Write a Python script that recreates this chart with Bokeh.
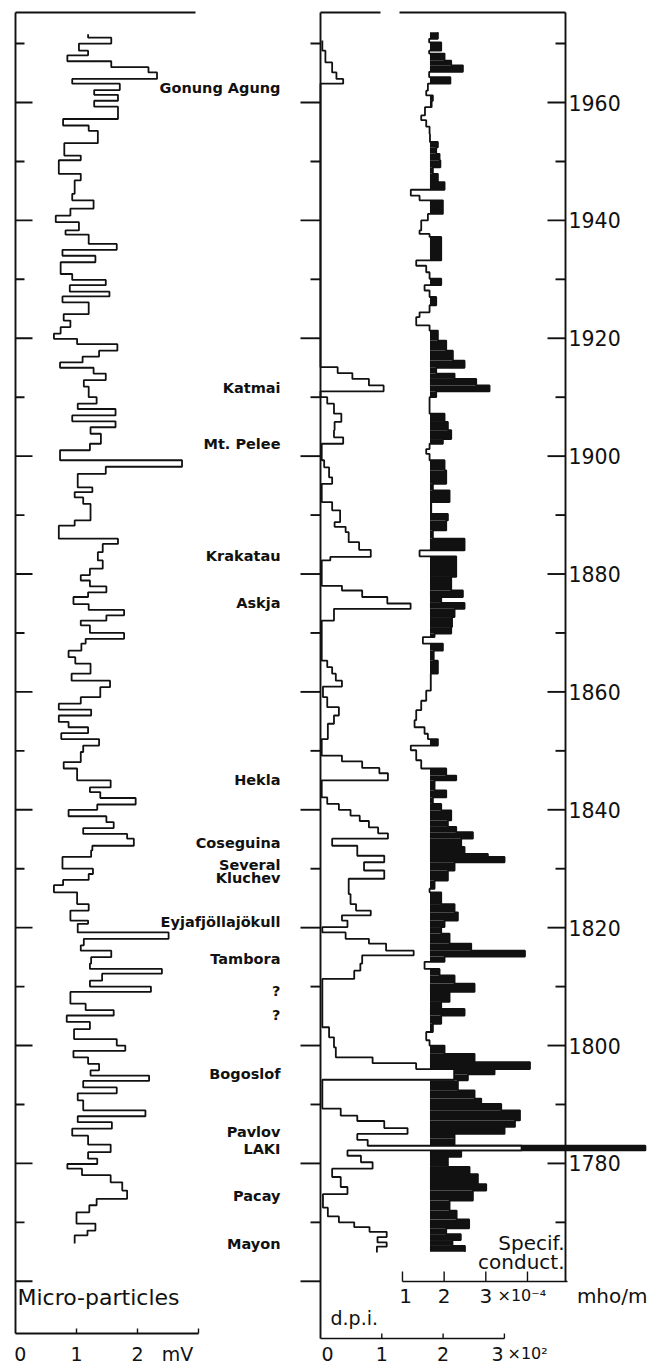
import numpy as np
from bokeh.plotting import figure
from bokeh.models import Range1d
from bokeh.core.properties import value
from bokeh.embed import file_html
from bokeh.resources import INLINE

# ---------------- data ----------------
# Micro-particles (mV): step edges in years (top -> bottom) and values between them
mp_edges = [1971.6, 1971.0, 1970.0, 1968.8, 1968.0, 1967.0, 1966.0, 1965.1, 1964.0, 1963.2, 1962.1, 1961.3,
            1960.3, 1959.3, 1957.2, 1956.1, 1955.2, 1953.1, 1951.0, 1950.2, 1947.9, 1946.8, 1944.5, 1943.4,
            1942.0, 1940.8, 1939.7, 1938.3,
            1937.6, 1936.0, 1935.0, 1934.0, 1932.9, 1930.9, 1929.9, 1929.0, 1927.9, 1927.1, 1926.1, 1924.1,
            1923.0, 1921.9, 1920.8, 1919.9, 1919.0, 1917.9, 1916.9, 1915.9, 1915.0, 1914.0, 1912.9, 1911.8,
            1910.0, 1908.9, 1908.0, 1906.9, 1905.9, 1904.9, 1903.8, 1902.1, 1901.0, 1899.3, 1898.2,
            1897.0, 1894.7, 1893.9, 1893.0, 1891.9, 1889.1, 1888.2, 1886.0, 1885.1, 1883.7, 1882.3, 1880.9,
            1879.8, 1878.9, 1877.9, 1876.9, 1876.1, 1874.9, 1873.9, 1873.0, 1872.1, 1871.3, 1870.0, 1869.0,
            1868.2, 1867.0, 1865.9, 1864.8, 1863.1, 1861.9, 1860.8,
            1859.1, 1858.0, 1857.0, 1856.0, 1854.9, 1854.0, 1853.0, 1852.0, 1850.9, 1849.8, 1848.1, 1847.0,
            1845.0, 1843.8, 1843.0, 1842.0, 1840.9, 1840.0, 1838.9, 1837.9, 1836.9, 1835.9, 1835.1, 1833.9,
            1833.1, 1832.0, 1830.0, 1829.1, 1828.1, 1827.2, 1826.0, 1824.0, 1822.9, 1821.2, 1820.65,
            1819.2, 1818.1, 1817.0, 1816.1, 1815.0, 1813.9, 1813.0, 1812.2, 1811.0, 1810.0, 1809.1, 1807.1,
            1806.0, 1805.1, 1804.0, 1802.8, 1801.1, 1800.0, 1799.1, 1798.0, 1796.9, 1795.8, 1794.9, 1794.0,
            1792.9, 1791.9, 1790.7, 1789.0, 1788.0, 1787.0, 1785.9, 1784.7, 1783.2, 1781.9, 1780.8, 1779.9,
            1779.1, 1778.0, 1776.8, 1775.4, 1774.0,
            1772.9, 1771.7, 1769.8, 1768.6, 1767.8, 1766.4]
mp_vals = [1.19, 1.57, 1.04, 1.19, 0.85, 1.57, 2.18, 2.32, 0.93, 1.71, 1.29, 1.68, 1.29, 1.68, 0.78, 1.2,
           1.35, 0.8, 1.07, 0.71, 1.07, 0.97, 0.93, 1.28, 0.9, 0.66, 1.04,
           0.82, 1.2, 1.66, 0.77, 1.31, 0.74, 0.93, 1.48, 0.89, 1.54, 0.77, 1.2, 0.79, 0.9, 0.74, 0.63, 1.01,
           1.67, 1.37, 1.1, 0.73, 1.28, 1.48, 1.12, 1.2, 1.33, 1.02, 1.64, 0.93, 1.64, 1.23, 1.4, 1.22, 0.73, 2.73,
           1.48, 1.02, 1.26, 0.97, 1.11, 1.23, 0.97, 0.71, 1.68, 1.43, 1.35, 1.43, 1.22, 1.07, 1.22, 1.49, 1.19,
           0.95, 1.2, 1.78, 1.49, 1.07, 1.22, 1.78, 1.15, 1.08, 0.87, 0.98, 1.23, 0.92, 1.55,
           1.39, 1.07, 0.71, 1.24, 0.71, 0.87, 1.19, 0.75, 1.37, 1.11, 1.07, 0.79, 1.01, 1.56, 1.22, 1.39, 1.97,
           1.34, 0.87, 1.49, 1.61, 1.11, 1.83, 1.94, 1.26, 1.24, 0.77, 1.27, 1.2, 0.78, 0.63, 1.01, 1.2, 0.9, 1.19,
           1.02, 2.51, 1.12, 1.07, 1.57, 1.24, 1.22, 2.4, 1.42, 1.22, 2.22, 0.9, 1.15, 1.61, 0.84, 1.22, 0.96,
           1.66, 1.8, 0.95, 1.19, 1.37, 1.23, 2.19, 1.11, 1.66, 1.02, 1.11, 2.13, 1.02, 1.58, 0.93, 1.19, 1.56,
           1.19, 1.34, 0.85, 1.09, 1.56, 1.75, 1.83,
           1.33, 1.21, 1.0, 1.31, 1.18, 0.97]

# Dust-veil index (d.p.i.)
dpi_edges = [1970.5, 1968.8, 1966.8, 1965.1, 1964.0, 1963.2, 1915.1, 1914.1, 1913.1, 1912.0, 1911.0, 1910.0,
             1908.9, 1907.2, 1905.8, 1904.4, 1903.2, 1902.1, 1899.3, 1898.1, 1896.4, 1895.3, 1892.2, 1890.8,
             1888.8, 1888.0, 1887.1, 1885.4, 1884.1, 1882.9, 1882.3, 1878.0, 1877.2, 1876.1, 1875.0, 1874.1,
             1872.1, 1865.3, 1864.2, 1863.1, 1861.9, 1860.9, 1859.1, 1857.4, 1856.0, 1854.6, 1852.0, 1849.2,
             1848.2, 1847.1, 1846.2, 1845.0, 1842.1, 1841.0, 1840.0, 1839.0, 1838.1, 1837.0, 1836.0, 1835.1,
             1833.9, 1832.2, 1831.1, 1829.7, 1828.3, 1825.7, 1824.0, 1822.9, 1822.1, 1821.2, 1820.1, 1819.2,
             1818.1, 1817.3, 1816.1, 1815.3, 1813.9, 1812.7, 1811.3, 1803.1, 1801.4, 1799.7, 1798.0, 1797.0,
             1796.0, 1794.2, 1789.3, 1788.1, 1787.2, 1786.0, 1785.0, 1784.0, 1783.0, 1782.2, 1781.3, 1780.2,
             1779.1, 1777.7, 1776.0, 1774.8, 1772.5, 1771.0, 1770.0, 1769.2, 1768.4, 1767.5, 1766.6, 1765.9,
             1764.9]
dpi_vals = [3, 8, 19, 26, 37, 0, 28, 52, 79, 103, 0, 11, 22, 34, 23, 22, 37, 2, 6, 14, 19, 2, 19, 32, 23,
            41, 46, 63, 82, 16, 2, 35, 68, 109, 147, 22, 2, 11, 19, 25, 35, 4, 11, 30, 22, 12, 2, 35, 68, 96,
            110, 2, 11, 30, 49, 64, 79, 94, 110, 19, 60, 104, 71, 104, 46, 49, 58, 82, 35, 44, 3, 41, 79, 107,
            152, 68, 65, 55, 3, 14, 22, 25, 85, 156, 218, 3, 33, 60, 104, 142, 60, 77, 328, 44, 66, 85, 19, 33,
            44, 4, 12, 30, 55, 80, 108, 93, 108, 92]

# Specific conductivity (x 10^-4 mho/m)
cond_edges = [1971.9, 1970.8, 1970.2, 1968.8, 1968.3, 1967.1, 1966.3, 1965.2, 1964.3, 1963.2, 1962.0, 1961.2,
              1960.3, 1959.2, 1957.8, 1957.0, 1955.9, 1954.7, 1953.3, 1952.4, 1951.3, 1950.2, 1949.0, 1947.9,
              1946.5, 1945.2, 1944.2, 1943.4, 1941.1, 1940.0, 1938.3,
              1937.7, 1937.2, 1933.2, 1932.3, 1931.2, 1930.1, 1929.0, 1928.1, 1927.0, 1925.6, 1924.4, 1923.6,
              1922.2, 1921.3, 1919.6, 1917.9, 1916.2, 1915.0, 1914.0, 1913.1, 1912.0, 1911.0, 1910.0, 1907.2,
              1905.8, 1904.4, 1902.9, 1902.1, 1901.2, 1900.4, 1899.3, 1897.6,
              1895.3, 1894.2, 1892.2, 1890.2, 1889.1, 1887.4, 1886.0, 1884.0, 1883.0, 1879.5, 1877.2, 1876.1,
              1875.1, 1874.1, 1872.7, 1871.0, 1869.9, 1869.3, 1868.2, 1867.0, 1865.3, 1863.1, 1860.2,
              1858.5, 1856.9, 1855.2, 1854.0, 1852.9, 1852.0, 1850.9, 1850.1, 1848.4, 1847.0, 1845.8, 1845.0,
              1843.3, 1842.1, 1841.0, 1839.9, 1838.2, 1837.1, 1836.2, 1835.1, 1833.7, 1832.5, 1832.0, 1831.1,
              1829.7, 1828.0, 1826.6, 1826.0, 1824.0, 1822.6, 1821.2, 1820.1,
              1819.0, 1817.3, 1816.1, 1815.1, 1814.2, 1813.0, 1811.9, 1810.5, 1809.1, 1807.4, 1806.2, 1805.1,
              1803.7, 1802.3, 1800.9, 1800.0, 1798.6, 1797.2, 1796.0, 1795.1, 1794.1, 1792.4, 1791.0, 1790.1,
              1789.0, 1787.3, 1786.2, 1785.0, 1784.2, 1783.0, 1782.2, 1781.1, 1779.4, 1778.2, 1776.5, 1775.4,
              1773.7, 1772.0,
              1770.5, 1769.0, 1768.0, 1767.0, 1766.0, 1765.0]
cond_vals = [1.85, 1.64, 1.93, 1.64, 2.01, 2.17, 2.45, 1.64, 2.15, 1.61, 1.57, 1.73, 1.70, 1.54, 1.45, 1.57,
             1.65, 1.66, 1.85, 1.81, 1.89, 1.91, 1.73, 1.85, 2.01, 1.2, 1.41, 1.97, 1.61, 1.45,
             1.41, 1.65, 1.93, 1.33, 1.57, 1.65, 1.93, 1.53, 1.65, 1.81, 1.65, 1.41, 1.33, 1.65, 1.85, 2.05,
             2.21, 2.49, 1.81, 2.25, 2.77, 3.09, 1.81, 1.65, 2.01, 2.09, 2.17, 1.97, 1.65, 1.57, 1.65, 2.01,
             2.05, 1.73, 2.13, 1.69, 2.09, 2.05, 1.73, 2.49, 1.41, 2.29, 2.17, 2.45, 1.93, 2.49, 2.25, 2.19,
             2.17, 1.77, 1.49, 1.97, 1.75, 1.85, 1.68,
             1.57, 1.45, 1.33, 1.29, 1.53, 1.61, 1.85, 1.2, 1.33, 1.45, 2.05, 2.29, 1.77, 2.05, 1.73, 1.93,
             2.17, 2.09, 2.29, 2.69, 2.41, 2.49, 3.05, 3.45, 2.25, 2.09, 1.77, 1.65, 1.93, 2.25, 2.33, 2.01,
             1.93, 2.13, 2.65, 3.94, 2.01, 1.53, 1.89, 2.25, 2.73, 2.13, 1.93, 2.49, 1.93, 1.73, 1.57, 1.65,
             2.01, 2.73, 4.06, 3.21, 2.57, 2.33, 2.73, 2.89, 3.37, 3.82, 3.7, 3.45, 2.25, 2.25, 6.83, 2.41,
             2.09, 2.61, 2.81, 3.01, 2.69, 2.13,
             2.3, 2.6, 2.05, 2.4, 2.2, 2.5]
cond_base = 1.66

volcano_names = ["Gonung Agung", "Katmai", "Mt. Pelee", "Krakatau", "Askja", "Hekla", "Coseguina",
                 "Several", "Kluchev", "Eyjafjöllajökull", "Tambora", "?", "?", "Bogoslof", "Pavlov",
                 "LAKI", "Pacay", "Mayon"]
volcano_years = [1962.5, 1911.6, 1902.1, 1883.0, 1875.0, 1845.0, 1834.4, 1830.7, 1828.4, 1820.9,
                 1814.7, 1809.3, 1805.2, 1795.2, 1785.3, 1782.5, 1774.5, 1766.4]

year_ticks = list(range(1970, 1759, -10))
year_labels = [1960, 1940, 1920, 1900, 1880, 1860, 1840, 1820, 1800, 1780]
mp_ticks = [1, 2, 3]
mp_tick_labels = ["0", "1", "2", "mV"]
dpi_ticks = [100, 200, 300]
dpi_tick_labels = ["0", "1", "2", "3"]
cond_ticks = [1, 2, 3, 4]
cond_tick_labels = ["1", "2", "3"]

# ---------------- page geometry ----------------
W, H = 648, 1367
PXY = 5.894          # pixels per year
def yr(py):          # pixel row -> year
    return 1960 - (py - 102) / PXY
def mvx(px):         # pixel column -> mV
    return (px - 15) / 61.0
def dpx(px):         # pixel column -> d.p.i.
    return (px - 320) / 0.613
def cdx(px):         # pixel column -> conductivity (1e-4 mho/m)
    return (px - 360.3) / 41.67

p = figure(width=W, height=H, x_range=Range1d(mvx(0), mvx(W)), y_range=Range1d(yr(H), yr(0)),
           output_backend="svg", toolbar_location=None, x_axis_location=None, y_axis_location=None,
           min_border=0)
p.extra_x_ranges = {"dpi": Range1d(dpx(0), dpx(W)), "cond": Range1d(cdx(0), cdx(W))}
p.grid.visible = False
p.outline_line_color = None
p.background_fill_color = "white"
p.border_fill_color = "white"

def steps(edges, vals):
    e = np.asarray(edges, float)
    v = np.asarray(vals, float)
    ys = np.column_stack([e[:-1], e[1:]]).ravel()
    xs = np.repeat(v, 2)
    return xs, ys

INK = "#111111"
LW = 1.8

# conductivity: black fill above background level, then outline
ce = np.asarray(cond_edges); cv = np.asarray(cond_vals)
mask = cv > cond_base
p.hbar(y=((ce[:-1] + ce[1:]) / 2)[mask], height=(ce[:-1] - ce[1:])[mask], left=cond_base,
       right=cv[mask], x_range_name="cond", fill_color=INK, line_color=None)
xs, ys = steps(cond_edges, cond_vals)
p.line(xs, ys, x_range_name="cond", line_color=INK, line_width=LW)

# d.p.i.: white inside, outline
de = np.asarray(dpi_edges); dv = np.asarray(dpi_vals)
p.hbar(y=(de[:-1] + de[1:]) / 2, height=(de[:-1] - de[1:]), left=0, right=dv,
       x_range_name="dpi", fill_color="white", line_color=None)
xs, ys = steps(dpi_edges, dpi_vals)
p.line(xs, ys, x_range_name="dpi", line_color=INK, line_width=LW)

# micro-particles
xs, ys = steps(mp_edges, mp_vals)
p.line(xs, ys, line_color=INK, line_width=LW)

# ---------------- frames and ticks ----------------
FW = 1.9
top = yr(12)
mp_axis_y = yr(1333)
dpi_axis_y = yr(1338)
cond_axis_y = yr(1281)

# left panel
p.segment(x0=[0, 0, 0], y0=[top, top, mp_axis_y], x1=[0, mvx(195), 3], y1=[mp_axis_y, top, mp_axis_y],
          line_color=INK, line_width=FW)
ticks = np.array(year_ticks, float)
longt = np.array([t % 20 == 0 for t in year_ticks])
tl = np.where(longt, mvx(32), mvx(24))
p.segment(x0=0, y0=ticks, x1=tl, y1=ticks, line_color=INK, line_width=FW)
p.segment(x0=mp_ticks, y0=mp_axis_y, x1=mp_ticks, y1=mp_axis_y + 5 / PXY, line_color=INK, line_width=1.4)

# middle panel
p.segment(x0=[0, 0, dpx(399)], y0=[top, top, top], x1=[0, dpx(380), dpx(565)], y1=[dpi_axis_y, top, top],
          x_range_name="dpi", line_color=INK, line_width=FW)
p.segment(x0=0, y0=ticks, x1=np.where(longt, dpx(300), dpx(310)), y1=ticks, x_range_name="dpi",
          line_color=INK, line_width=FW)
p.segment(x0=[0], y0=[dpi_axis_y], x1=[300], y1=[dpi_axis_y], x_range_name="dpi", line_color=INK, line_width=1.4)
p.segment(x0=dpi_ticks, y0=dpi_axis_y, x1=dpi_ticks, y1=dpi_axis_y + 5 / PXY, x_range_name="dpi",
          line_color=INK, line_width=1.4)

# right frame + year axis
rx = cdx(565)
p.segment(x0=[rx], y0=[top], x1=[rx], y1=[cond_axis_y], x_range_name="cond", line_color=INK, line_width=FW)
rt = ticks[ticks > 1765]
rlong = np.array([t % 20 == 0 for t in rt])
p.segment(x0=rx, y0=rt, x1=np.where(rlong, cdx(547), cdx(555)), y1=rt, x_range_name="cond",
          line_color=INK, line_width=FW)
p.text(x=cdx(568), y=year_labels, text=[str(v) for v in year_labels], x_range_name="cond",
       text_font=value("DejaVu Sans"), text_font_size="20.5px", text_align="left", text_baseline="middle",
       text_color=INK)

# conductivity axis
p.segment(x0=[1], y0=[cond_axis_y], x1=[cdx(567)], y1=[cond_axis_y], x_range_name="cond",
          line_color=INK, line_width=1.4)
p.segment(x0=cond_ticks, y0=cond_axis_y, x1=cond_ticks, y1=cond_axis_y + 10 / PXY, x_range_name="cond",
          line_color=INK, line_width=1.4)

# ---------------- texts ----------------
FONT = value("DejaVu Sans")
p.text(x=mvx(280), y=volcano_years, text=volcano_names, text_font=FONT, text_font_size="14.5px",
       text_font_style="bold", text_align="right", text_baseline="middle", text_color=INK)

BOT = yr(1353)
# left axis labels
p.text(x=[0.08, 1, 2], y=BOT, text=mp_tick_labels[:3], text_font=FONT, text_font_size="19px",
       text_align="center", text_baseline="middle", text_color=INK)
p.text(x=[mvx(177)], y=[BOT], text=[mp_tick_labels[3]], text_font=FONT, text_font_size="19px",
       text_align="center", text_baseline="middle", text_color=INK)
p.text(x=[mvx(17)], y=[yr(1297)], text=["Micro-particles"], text_font=FONT, text_font_size="22px",
       text_align="left", text_baseline="middle", text_color=INK)

# d.p.i. labels
p.text(x=[dpx(327), 100, 200], y=BOT, text=dpi_tick_labels[:3], x_range_name="dpi", text_font=FONT,
       text_font_size="19px", text_align="center", text_baseline="middle", text_color=INK)
p.text(x=[dpx(497)], y=[BOT], text=[dpi_tick_labels[3]], x_range_name="dpi", text_font=FONT,
       text_font_size="19px", text_align="center", text_baseline="middle", text_color=INK)
p.text(x=[dpx(507)], y=[BOT], text=["×10²"], x_range_name="dpi", text_font=FONT,
       text_font_size="16px", text_align="left", text_baseline="middle", text_color=INK)
p.text(x=[dpx(330)], y=[yr(1317)], text=["d.p.i."], x_range_name="dpi", text_font=FONT,
       text_font_size="19px", text_align="left", text_baseline="middle", text_color=INK)

# conductivity labels
p.text(x=[cdx(405), 2, 3], y=yr(1295), text=cond_tick_labels, x_range_name="cond", text_font=FONT,
       text_font_size="20px", text_align="center", text_baseline="middle", text_color=INK)
p.text(x=[cdx(497)], y=[yr(1295)], text=["×10⁻⁴"], x_range_name="cond", text_font=FONT,
       text_font_size="16px", text_align="left", text_baseline="middle", text_color=INK)
p.text(x=[cdx(647)], y=[yr(1295)], text=["mho/m"], x_range_name="cond", text_font=FONT,
       text_font_size="20px", text_align="right", text_baseline="middle", text_color=INK)
p.text(x=[cdx(564), cdx(564)], y=[yr(1242), yr(1261)], text=["Specif.", "conduct."], x_range_name="cond",
       text_font=FONT, text_font_size="20px", text_align="right", text_baseline="middle", text_color=INK)

open("out.html", "w").write(file_html(p, INLINE))
